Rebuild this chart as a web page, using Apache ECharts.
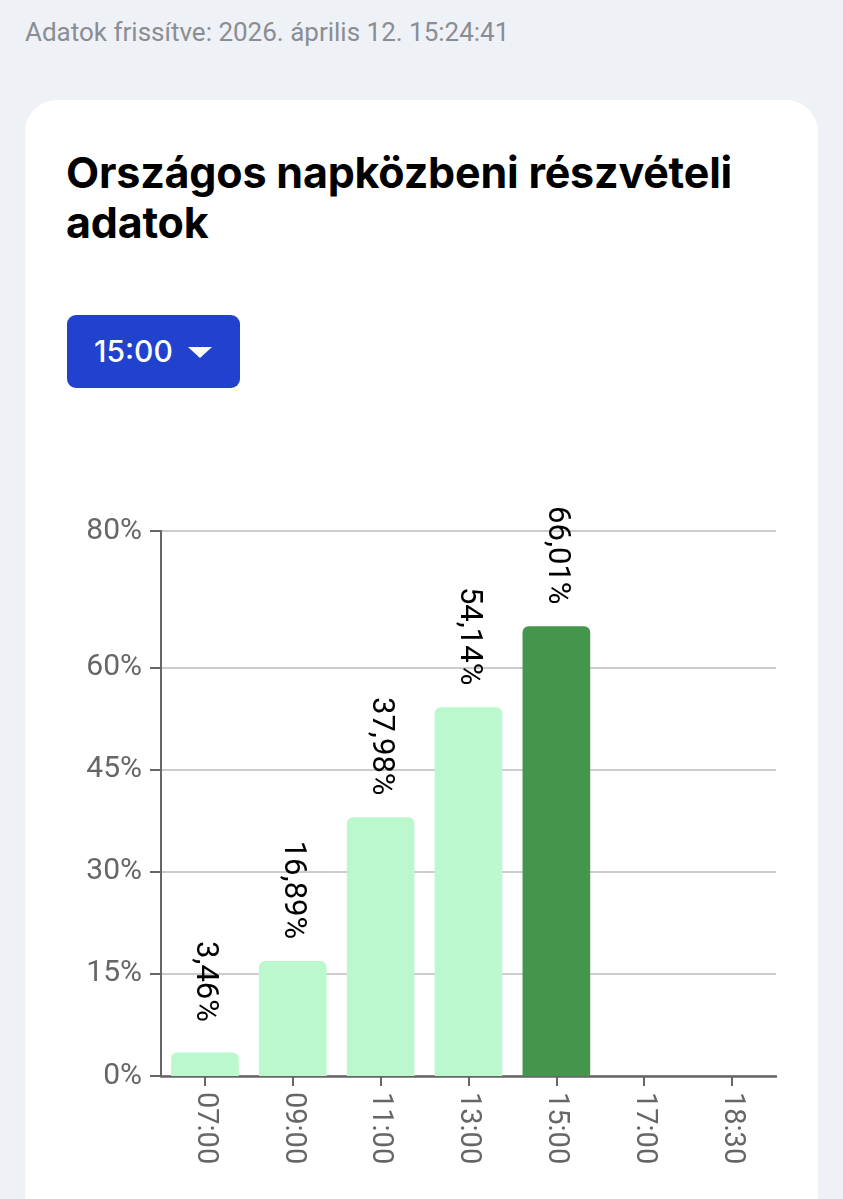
<!DOCTYPE html>
<html>
<head>
<meta charset="utf-8">
<script src="https://cdn.jsdelivr.net/npm/echarts@6/dist/echarts.min.js"></script>
<style>
  html, body { margin: 0; padding: 0; width: 843px; height: 1199px; background: #eef1f6; overflow: hidden; }
  #updated { position: absolute; left: 25px; top: 15px; font-family: Roboto, "Noto Sans", sans-serif; font-size: 26px; color: #8a8d93; font-weight: 400; line-height: 34px; }
  #card { position: absolute; left: 25px; top: 100px; width: 793px; height: 1160px; background: #fff; border-radius: 32px; }
  #title { position: absolute; left: 66px; top: 147px; font-family: Inter, Roboto, sans-serif; font-weight: 700; font-size: 43px; line-height: 50px; color: #000; letter-spacing: -0.2px; white-space: nowrap; }
  #btn { position: absolute; left: 67px; top: 315px; width: 173px; height: 73px; background: #2141cf; border-radius: 9px; color: #fff; font-family: Inter, Roboto, sans-serif; font-size: 30px; font-weight: 500; box-sizing: border-box; padding-left: 27px; line-height: 73px; }
  #btn .caret { position: absolute; left: 121px; top: 32px; width: 0; height: 0; border-left: 12px solid transparent; border-right: 12px solid transparent; border-top: 11px solid #fff; }
  #chart { position: absolute; left: 0; top: 0; width: 843px; height: 1199px; }
</style>
</head>
<body>
<div id="updated">Adatok frissítve: 2026. április 12. 15:24:41</div>
<div id="card"></div>
<div id="title">Országos napközbeni részvételi<br>adatok</div>
<div id="btn">15:00<span class="caret"></span></div>
<div id="chart"></div>
<script>
const categories = ['07:00', '09:00', '11:00', '13:00', '15:00', '17:00', '18:30'];
const turnout = [3.46, 16.89, 37.98, 54.14, 66.01, null, null];
const selectedIndex = 4;
const yTicks = [0, 15, 30, 45, 60, 80];

const LIGHT = '#bbf8cd';
const DARK = '#43964b';

const chart = echarts.init(document.getElementById('chart'), null, { renderer: 'canvas' });
chart.setOption({
  backgroundColor: 'transparent',
  animation: false,
  grid: { left: 161, right: 67, top: 531, bottom: 123, containLabel: false },
  xAxis: {
    type: 'category',
    data: categories,
    axisLine: { show: true, lineStyle: { color: '#666', width: 2.5 } },
    axisTick: { show: true, alignWithLabel: true, length: 10, lineStyle: { color: '#666', width: 2 } },
    axisLabel: { rotate: -90, margin: 16, color: '#666', fontSize: 29, fontFamily: 'Roboto' },
    splitLine: { show: false }
  },
  yAxis: {
    type: 'value',
    min: 0,
    max: 80,
    axisLine: { show: true, lineStyle: { color: '#666', width: 2 } },
    axisTick: { show: true, length: 11, customValues: yTicks, lineStyle: { color: '#666', width: 2 } },
    axisLabel: { customValues: yTicks, margin: 19, color: '#666', fontSize: 30, fontFamily: 'Roboto', formatter: v => v + '%' },
    splitLine: { show: true, lineStyle: { color: '#cccccc', width: 2 } }
  },
  series: [{
    type: 'bar',
    data: turnout.map((v, i) => ({
      value: v,
      itemStyle: { color: i === selectedIndex ? DARK : LIGHT }
    })),
    barCategoryGap: '23%',
    itemStyle: { borderRadius: [6, 6, 0, 0] },
    label: {
      show: true,
      position: 'top',
      distance: 71,
      rotate: -90,
      align: 'center',
      verticalAlign: 'middle',
      color: '#000',
      fontSize: 31,
      fontFamily: 'Roboto',
      formatter: p => p.value == null ? '' : p.value.toFixed(2).replace('.', ',') + '%'
    }
  }]
});
</script>
</body>
</html>
